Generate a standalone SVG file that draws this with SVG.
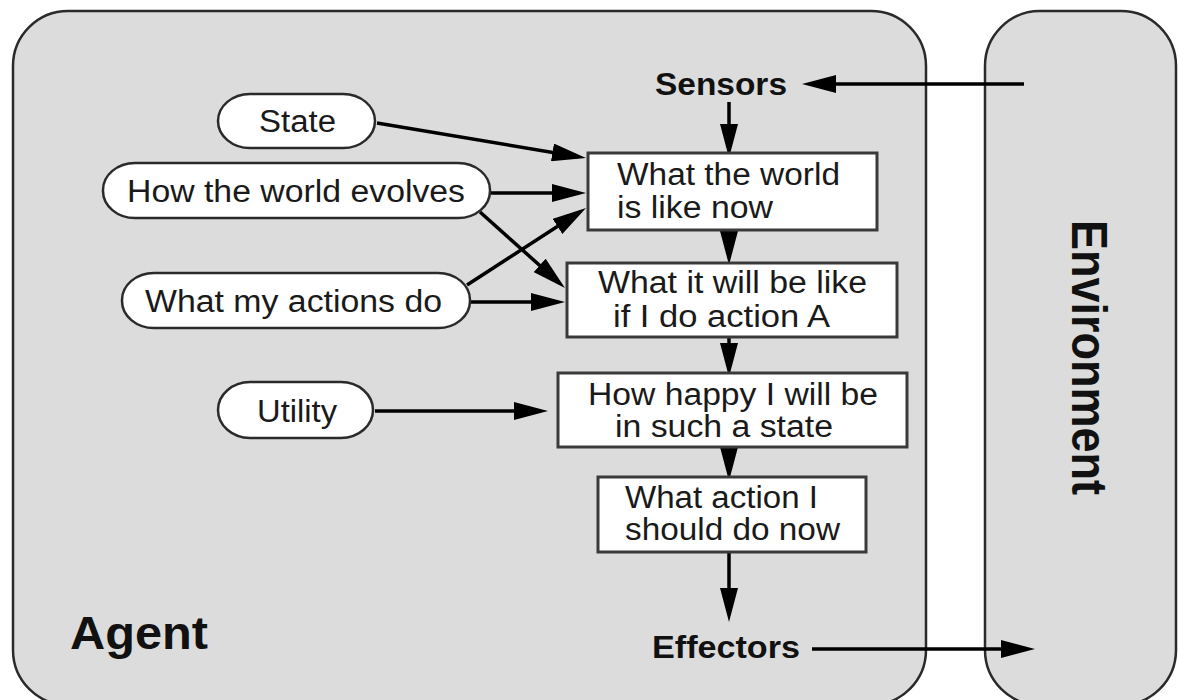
<svg xmlns="http://www.w3.org/2000/svg" width="1178" height="700" viewBox="0 0 1178 700">
  <style>
    .panel { fill: #dcdcdc; stroke: #2a2a2a; stroke-width: 2.5; }
    .oval { fill: #ffffff; stroke: #2a2a2a; stroke-width: 2.5; }
    .box { fill: #ffffff; stroke: #3a3a3a; stroke-width: 3; }
    .lbl { font-family: "Liberation Sans", Arial, sans-serif; font-size: 31px; fill: #1a1a1a; }
    .bold { font-family: "Liberation Sans", Arial, sans-serif; font-weight: bold; fill: #111111; }
    .conn { stroke: #000000; stroke-width: 3.5; fill: none; marker-end: url(#head); }
  </style>
  <defs>
    <marker id="head" markerUnits="userSpaceOnUse" viewBox="0 0 34 18" markerWidth="34" markerHeight="18" refX="26" refY="9" orient="auto">
      <path d="M0,0 L34,9 L0,18 Z" fill="#000000"/>
    </marker>
  </defs>

  <rect width="1178" height="700" fill="#ffffff"/>

  <!-- agent and environment panels -->
  <g id="agent">
    <rect class="panel" x="13" y="11" width="913" height="694" rx="55" ry="55"/>
    <text class="bold" x="70" y="649" font-size="46" textLength="138" lengthAdjust="spacingAndGlyphs">Agent</text>
  </g>
  <g id="environment">
    <rect class="panel" x="985" y="11" width="191" height="694" rx="55" ry="55"/>
    <text class="bold" font-size="45" textLength="275" lengthAdjust="spacingAndGlyphs" transform="translate(1072,220) rotate(90) scale(1,1.09)">Environment</text>
  </g>

  <g id="sensors">
    <text class="bold" x="655" y="95" font-size="31" textLength="132" lengthAdjust="spacingAndGlyphs">Sensors</text>
  </g>
  <g id="effectors">
    <text class="bold" x="652" y="658" font-size="31" textLength="148" lengthAdjust="spacingAndGlyphs">Effectors</text>
  </g>

  <!-- connectors -->
  <g id="connectors">
    <path class="conn" d="M1024,84 L810,84"/>
    <path class="conn" d="M729,102 L729,150"/>
    <path class="conn" d="M377,123 L578.1,156.7"/>
    <path class="conn" d="M490,193 L578,193"/>
    <path class="conn" d="M480,212 L559,282.7"/>
    <path class="conn" d="M467,285 L579.3,212.3"/>
    <path class="conn" d="M470,302 L557,302"/>
    <path class="conn" d="M375,411 L540,411"/>
    <path class="conn" d="M729,230 L729,257"/>
    <path class="conn" d="M729,337 L729,369"/>
    <path class="conn" d="M729,447 L729,473"/>
    <path class="conn" d="M729,552 L729,614"/>
    <path class="conn" d="M812,649 L1027,649"/>
  </g>

  <!-- knowledge ovals -->
  <g id="state">
    <rect class="oval" x="218" y="94" width="157" height="54" rx="32" ry="27"/>
    <text class="lbl" x="259" y="132" textLength="77" lengthAdjust="spacingAndGlyphs">State</text>
  </g>
  <g id="world-evolves">
    <rect class="oval" x="103" y="163" width="387" height="55" rx="32" ry="27"/>
    <text class="lbl" x="127" y="202" textLength="338" lengthAdjust="spacingAndGlyphs">How the world evolves</text>
  </g>
  <g id="actions-do">
    <rect class="oval" x="122" y="273" width="348" height="55" rx="32" ry="27"/>
    <text class="lbl" x="145" y="312" textLength="297" lengthAdjust="spacingAndGlyphs">What my actions do</text>
  </g>
  <g id="utility">
    <rect class="oval" x="218" y="382" width="155" height="56" rx="32" ry="28"/>
    <text class="lbl" x="257" y="422" textLength="80" lengthAdjust="spacingAndGlyphs">Utility</text>
  </g>

  <!-- decision chain -->
  <g id="world-now">
    <rect class="box" x="588" y="153" width="289" height="77"/>
    <text class="lbl" x="617" y="185" textLength="223" lengthAdjust="spacingAndGlyphs">What the world</text>
    <text class="lbl" x="617" y="218" textLength="156" lengthAdjust="spacingAndGlyphs">is like now</text>
  </g>
  <g id="action-outcome">
    <rect class="box" x="567" y="263" width="330" height="74"/>
    <text class="lbl" x="598" y="293" textLength="269" lengthAdjust="spacingAndGlyphs">What it will be like</text>
    <text class="lbl" x="613" y="327" textLength="217" lengthAdjust="spacingAndGlyphs">if I do action A</text>
  </g>
  <g id="happiness">
    <rect class="box" x="558" y="373" width="349" height="74"/>
    <text class="lbl" x="588" y="405" textLength="290" lengthAdjust="spacingAndGlyphs">How happy I will be</text>
    <text class="lbl" x="615" y="437" textLength="218" lengthAdjust="spacingAndGlyphs">in such a state</text>
  </g>
  <g id="next-action">
    <rect class="box" x="598" y="477" width="268" height="75"/>
    <text class="lbl" x="625" y="508" textLength="193" lengthAdjust="spacingAndGlyphs">What action I</text>
    <text class="lbl" x="625" y="540" textLength="215" lengthAdjust="spacingAndGlyphs">should do now</text>
  </g>
</svg>
